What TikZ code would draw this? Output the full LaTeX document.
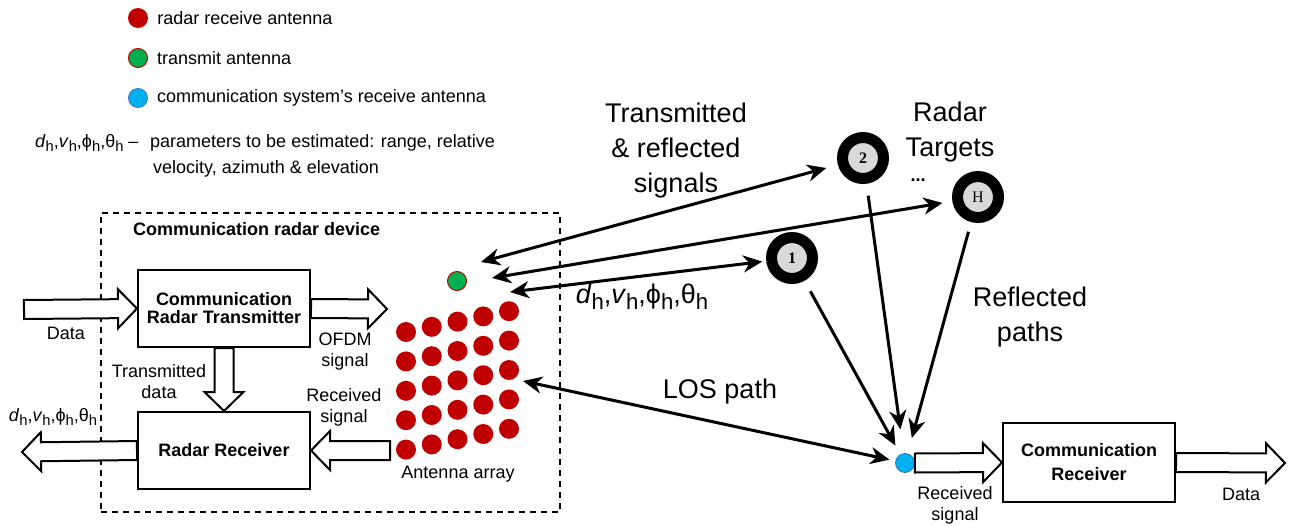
\documentclass[tikz,border=0pt]{standalone}
\usepackage{fontspec}
\setmainfont{Liberation Sans}
\newfontfamily\tgtfont{Liberation Serif}
\usetikzlibrary{arrows.meta,calc,positioning}
\definecolor{radred}{HTML}{C00000}
\definecolor{txgreen}{HTML}{00B050}
\definecolor{rxblue}{HTML}{00B0F0}
\definecolor{rxedge}{HTML}{2E75B6}
\definecolor{tgtgray}{HTML}{D9D9D9}

\newcommand{\hsub}{\raisebox{-0.45ex}{\scalebox{0.82}{h}}}
\newcommand{\est}{\textit{d}\hsub,\textit{v}\hsub,ϕ\hsub,θ\hsub}

% hollow block arrow from #1 to #2
\newcommand{\blockarrow}[2]{%
  \coordinate (ba-h) at ($(#2)!19pt!(#1)$);
  \draw[blockarr] ($(#1)!9.5pt!90:(#2)$) -- ($(ba-h)!9.5pt!-90:(#1)$)
    -- ($(ba-h)!19.5pt!-90:(#1)$) -- (#2) -- ($(ba-h)!19.5pt!90:(#1)$)
    -- ($(ba-h)!9.5pt!90:(#1)$) -- ($(#1)!9.5pt!-90:(#2)$) -- cycle;}

\tikzset{
  lbl/.style={font=\fontsize{18}{21}\selectfont, align=center, inner sep=0pt},
  biglbl/.style={font=\fontsize{27}{35}\selectfont, align=center, inner sep=0pt},
  blk/.style={draw, rectangle, line width=2pt, minimum width=172pt, minimum height=77pt,
    align=center, font=\fontsize{18}{21}\selectfont\bfseries},
  rdot/.style={circle, fill=radred, minimum size=20pt, inner sep=0pt},
  txdot/.style={rdot, fill=txgreen, draw=radred, line width=1pt, minimum size=19pt},
  rxdot/.style={rdot, fill=rxblue, draw=rxedge, line width=0.8pt, minimum size=19pt},
  target/.style={circle, draw, line width=11pt, fill=tgtgray, minimum size=41pt,
    inner sep=0pt, font=\tgtfont\fontsize{16}{16}\selectfont},
  sig/.style={line width=3pt},
  blockarr/.style={draw, fill=white, line width=2pt, line join=miter},
  >={Stealth[length=19pt,width=17pt,inset=6pt]}
}

\begin{document}
\begin{tikzpicture}[x=1pt,y=-1pt]
\useasboundingbox (0,0) rectangle (1290,525);

% legend
\path
  (138,18) node[rdot] (leg-rx) {}
  (138,58) node[txdot] (leg-tx) {}
  (138,98) node[rxdot] (leg-crx) {}
  ;
\node[lbl, right=9pt of leg-rx] (leg-rx-t) {radar receive antenna};
\node[lbl, right=9pt of leg-tx] (leg-tx-t) {transmit antenna};
\node[lbl, right=9pt of leg-crx] (leg-crx-t) {communication system’s receive antenna};
\node[lbl, anchor=base west] (leg-est) at (35,147) {\est\ –};
\node[lbl, anchor=base west] (leg-par1) at (150,147) {parameters to be estimated: range, relative};
\node[lbl, anchor=base west] (leg-par2) at (153,173) {velocity, azimuth \& elevation};

% device
\node[draw, line width=2pt, dash pattern=on 6pt off 5pt, minimum width=459pt,
  minimum height=299pt, inner sep=0pt] (device) at (330.5,362.5) {};
\node[lbl, font=\fontsize{18}{21}\selectfont\bfseries, anchor=west] (device-t) at (133,229) {Communication radar device};

\path
  (224,308.5) node[blk, font=\fontsize{18}{18}\selectfont\bfseries] (tx) {Communication\\Radar Transmitter}
  (224,450.5) node[blk] (rr) {Radar Receiver}
  (1089,462.5) node[blk, minimum height=79pt, font=\fontsize{18}{24}\selectfont\bfseries] (crx) {Communication\\Receiver}
  ;

% antennas
\foreach \i in {0,...,4}
  \foreach \j in {0,...,4}
    \node[rdot] (a-\i-\j) at ({406+25.75*\i},{332-5.2*\i+29.4*\j}) {};
\node[txdot] (tx-ant) at (457,281) {};
\node[rxdot] (rx-ant) at (905,463) {};

% targets
\path
  (792,258) node[target] (t1) {\textbf{1}}
  (863,158) node[target] (t2) {\textbf{2}}
  (978,197) node[target] (tH) {H}
  ;
\node[lbl, font=\fontsize{18}{18}\selectfont\bfseries] (tdots) at (918,180) {...};

\coordinate (data-in) at (24,309.5);
\coordinate (ofdm-out) at (387,309);
\coordinate (arr-out) at (390,450.5);
\coordinate (est-out) at (22,452);
\coordinate (data-out) at (1285,463);
\coordinate (ret2) at (481,262);
\coordinate (retH) at (492,278);
\coordinate (ret1) at (510,292);
\coordinate (los-end) at (523,381);

\blockarrow{data-in}{tx.west}
\blockarrow{tx.east}{ofdm-out}
\blockarrow{tx.south}{rr.north}
\blockarrow{arr-out}{rr.east}
\blockarrow{rr.west}{est-out}
\blockarrow{rx-ant.east}{crx.west}
\blockarrow{crx.east}{data-out}

\draw[sig, <->, shorten >=12pt] (ret2) -- (t2);
\draw[sig, <->, shorten >=10pt] (retH) -- (tH);
\draw[sig, <->, shorten >=4pt] (ret1) -- (t1);
\draw[sig, <->, shorten >=6pt] (los-end) -- (rx-ant);
\draw[sig, ->, shorten <=12pt, shorten >=10pt] (t1) -- (rx-ant);
\draw[sig, ->, shorten <=12pt, shorten >=24pt] (t2) -- (rx-ant);
\draw[sig, ->, shorten <=10pt, shorten >=16pt] (tH) -- (rx-ant);

% labels
\node[lbl] (data-in-t) at (66,333) {Data};
\node[lbl] (ofdm-t) at (345,352) {OFDM\\signal};
\node[lbl] (txdata-t) at (159,382) {Transmitted\\data};
\node[lbl] (rxsig-t) at (344,407) {Received\\signal};
\node[lbl] (est-t) at (53,417) {\est};
\node[lbl] (array-t) at (458,474) {Antenna array};
\node[lbl] (crxsig-t) at (955,505) {Received\\signal};
\node[lbl] (data-out-t) at (1241,494) {Data};
\node[biglbl] (sig-t) at (676,151) {Transmitted\\\& reflected\\signals};
\node[biglbl] (tgt-t) at (950,132) {Radar\\Targets};
\node[biglbl] (refl-t) at (1030,317) {Reflected\\paths};
\node[biglbl] (los-t) at (720,392) {LOS path};
\node[biglbl] (est-big) at (642,297) {\est};
\end{tikzpicture}
\end{document}
